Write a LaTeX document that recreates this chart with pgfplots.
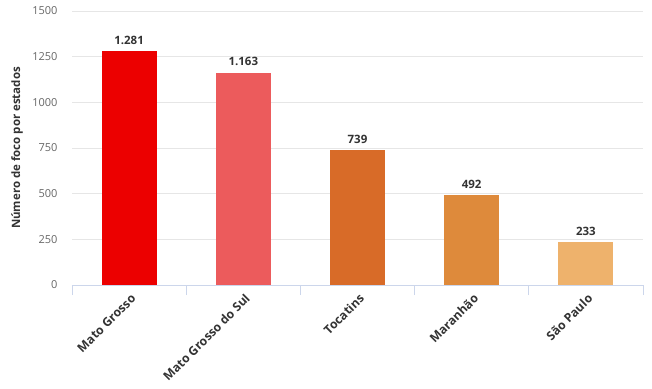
\documentclass[border=0pt]{standalone}
\usepackage{pgfplots}
\pgfplotsset{compat=1.18}
\usepackage{fontspec}
\setmainfont{Open Sans}
\definecolor{c1}{HTML}{EC0000}
\definecolor{c2}{HTML}{EC5B5C}
\definecolor{c3}{HTML}{D86B28}
\definecolor{c4}{HTML}{DE8A3B}
\definecolor{c5}{HTML}{EEB26C}
\definecolor{axc}{HTML}{CCD6EB}
\definecolor{gridc}{HTML}{E6E6E6}
\definecolor{tickc}{HTML}{666666}
\definecolor{txt}{HTML}{333333}
\begin{document}
\begin{tikzpicture}
\begin{axis}[
  scale only axis,
  width=571pt, height=274pt,
  xmin=-0.5, xmax=4.5,
  ymin=0, ymax=1500,
  ytick={0,250,500,750,1000,1250,1500},
  xtick={0,1,2,3,4},
  xticklabels={Mato Grosso, Mato Grosso do Sul, Tocatins, Maranhão, São Paulo},
  extra x ticks={-0.5,0.5,1.5,2.5,3.5,4.5},
  extra x tick labels={},
  extra x tick style={major tick length=10pt, tick style={draw=axc, line width=0.8pt}, grid=none},
  major tick length=0pt,
  tick align=outside,
  axis x line=bottom,
  axis y line=left,
  x axis line style={-, draw=axc, line width=0.8pt},
  y axis line style={draw=none},
  ymajorgrids,
  grid style={draw=gridc, line width=0.6pt},
  /pgf/number format/assume math mode=true,
  /pgf/number format/1000 sep={},
  yticklabel style={font=\fontsize{11}{13}\selectfont, text=tickc, xshift=-11pt},
  xticklabel style={font=\fontsize{12.2}{14}\selectfont\bfseries, text=txt, rotate=45, anchor=east, xshift=-1.5pt, yshift=-11pt},
  ylabel={Número de foco por estados},
  ylabel style={font=\fontsize{11.5}{13}\selectfont\bfseries, text=txt, at={(axis description cs:-0.0963,0.5)}, anchor=center},
  ybar, bar width=55pt,
  nodes near coords={\pgfmathprintnumber[1000 sep={.}]{\pgfplotspointmeta}},
  every node near coord/.append style={font=\fontsize{11.5}{13}\selectfont\bfseries, text=txt, yshift=3pt},
]
\addplot[fill=c1, draw=none, bar shift=0pt] coordinates {(0,1281)};
\addplot[fill=c2, draw=none, bar shift=0pt] coordinates {(1,1163)};
\addplot[fill=c3, draw=none, bar shift=0pt] coordinates {(2,739)};
\addplot[fill=c4, draw=none, bar shift=0pt] coordinates {(3,492)};
\addplot[fill=c5, draw=none, bar shift=0pt] coordinates {(4,233)};
\end{axis}
\path[use as bounding box] (-72pt,-103pt) rectangle (580pt,285pt);
\end{tikzpicture}
\end{document}
